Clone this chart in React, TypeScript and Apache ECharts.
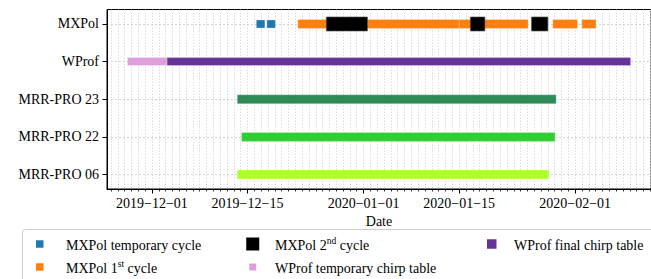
import React, { useEffect, useRef } from "react";
import * as echarts from "echarts";

// ---- data ----
const categories = ["MXPol", "WProf", "MRR-PRO 23", "MRR-PRO 22", "MRR-PRO 06"];

const tickDays = [0, 14, 31, 45, 62];
const tickLabels = ["2019−12−01", "2019−12−15", "2020−01−01", "2020−01−15", "2020−02−01"];

const mxpolTemporary = [
  ["2019-12-16T07:00", "2019-12-17T13:00"],
  ["2019-12-17T20:00", "2019-12-19T02:00"],
];
const mxpolFirst = [
  ["2019-12-22T09:00", "2020-01-15T00:00"],
  ["2020-01-15T00:00", "2020-01-25T02:30"],
  ["2020-01-28T17:00", "2020-02-01T08:00"],
  ["2020-02-01T23:00", "2020-02-04T01:00"],
];
const mxpolSecond = [
  ["2019-12-26T13:00", "2020-01-01T13:40"],
  ["2020-01-16T15:20", "2020-01-18T18:30"],
  ["2020-01-25T14:10", "2020-01-28T00:00"],
];
const wprofTemporary = [["2019-11-27T10:00", "2019-12-03T05:15"]];
const wprofFinal = [["2019-12-03T05:15", "2020-02-09T02:40"]];
const mrr23 = [["2019-12-13T12:00", "2020-01-29T05:00"]];
const mrr22 = [["2019-12-14T03:00", "2020-01-29T01:00"]];
const mrr06 = [["2019-12-13T12:00", "2020-01-28T03:30"]];

const ORIGIN = Date.parse("2019-12-01T00:00:00Z");
const toDay = (s: string) => (Date.parse(s + ":00Z") - ORIGIN) / 86400000;

const X_MIN = -6.58;
const X_MAX = 73.1;

const dailyTicks: number[] = [];
for (let d = Math.ceil(X_MIN); d <= Math.floor(X_MAX); d++) dailyTicks.push(d);

const FONT = "Liberation Serif";
const FS = 14;

type Spec = { name: string; row: number; color: string; h: number; segs: string[][]; z: number };
const specs: Spec[] = [
  { name: "MXPol temporary cycle", row: 0, color: "#1f77b4", h: 8, segs: mxpolTemporary, z: 2 },
  { name: "MXPol 1st cycle", row: 0, color: "#ff7f0e", h: 9, segs: mxpolFirst, z: 2 },
  { name: "MXPol 2nd cycle", row: 0, color: "#000000", h: 14, segs: mxpolSecond, z: 3 },
  { name: "WProf temporary chirp table", row: 1, color: "#dda0dd", h: 8, segs: wprofTemporary, z: 2 },
  { name: "WProf final chirp table", row: 1, color: "#663399", h: 8, segs: wprofFinal, z: 2 },
  { name: "MRR-PRO 23", row: 2, color: "#2e8b57", h: 9, segs: mrr23, z: 2 },
  { name: "MRR-PRO 22", row: 3, color: "#32cd32", h: 9, segs: mrr22, z: 2 },
  { name: "MRR-PRO 06", row: 4, color: "#adff2f", h: 9, segs: mrr06, z: 2 },
];

export default function App() {
  const ref = useRef<HTMLDivElement>(null);
  useEffect(() => {
    if (!ref.current) return;
    const chart = echarts.init(ref.current, undefined, { renderer: "svg" });

    const series = specs.map((s) => ({
      type: "custom",
      name: s.name,
      z: s.z,
      xAxisIndex: 0,
      yAxisIndex: 0,
      encode: { x: [0, 1], y: 2 },
      data: s.segs.map(([a, b]) => [toDay(a), toDay(b), s.row]),
      renderItem: (params: any, api: any) => {
        const p0 = api.coord([api.value(0), api.value(2)]);
        const p1 = api.coord([api.value(1), api.value(2)]);
        return {
          type: "rect",
          shape: { x: p0[0], y: p0[1] - s.h / 2, width: p1[0] - p0[0], height: s.h },
          style: {
            fill: s.color,
            stroke: s.color === "#000000" ? "rgba(90,90,90,0.8)" : "rgba(255,255,255,0.35)",
            lineWidth: 0.8,
          },
        };
      },
    }));

    const legendItems = [
      { x: 36, y: 244, size: 7.5, color: "#1f77b4", tx: 66, rich: "{n|MXPol temporary cycle}" },
      { x: 36, y: 267, size: 7.5, color: "#ff7f0e", tx: 66, rich: "{n|MXPol 1}{s|st}{n| cycle}" },
      { x: 249, y: 244, size: 13, color: "#000000", tx: 275, rich: "{n|MXPol 2}{s|nd}{n| cycle}" },
      { x: 249, y: 267, size: 7, color: "#dda0dd", tx: 275, rich: "{n|WProf temporary chirp table}" },
      { x: 488, y: 244, size: 9.5, color: "#663399", tx: 514, rich: "{n|WProf final chirp table}" },
    ];

    const graphic: any[] = [
      {
        type: "rect",
        shape: { x: 22.5, y: 229.5, width: 700, height: 60, r: 3 },
        style: { fill: "#fff", stroke: "#cccccc", lineWidth: 1 },
        z: 10,
      },
    ];
    legendItems.forEach((it) => {
      graphic.push({
        type: "rect",
        shape: { x: it.x + 3.75 - it.size / 2, y: it.y - it.size / 2, width: it.size, height: it.size },
        style: { fill: it.color },
        z: 11,
      });
      graphic.push({
        type: "text",
        x: it.tx,
        y: it.y,
        style: {
          text: it.rich,
          fontFamily: FONT,
          fontSize: FS,
          verticalAlign: "middle",
          rich: {
            n: { fontFamily: FONT, fontSize: FS, fill: "#000", verticalAlign: "bottom", lineHeight: 16 },
            s: { fontFamily: FONT, fontSize: 9.5, fill: "#000", verticalAlign: "top", lineHeight: 16 },
          },
        },
        z: 11,
      });
    });

    chart.setOption({
      animation: false,
      textStyle: { fontFamily: FONT },
      grid: {
        left: 107,
        right: 651 - 657,
        top: 9.5,
        bottom: 279 - 189,
        show: true,
        borderColor: "#000",
        borderWidth: 1,
        backgroundColor: "transparent",
        containLabel: false,
      },
      xAxis: [
        {
          type: "value",
          min: X_MIN,
          max: X_MAX,
          position: "bottom",
          name: "Date",
          nameLocation: "middle",
          nameGap: 24,
          nameTextStyle: { fontFamily: FONT, fontSize: FS, color: "#000" },
          axisLine: { show: true, onZero: false, lineStyle: { color: "#000", width: 1 } },
          axisTick: { show: true, customValues: tickDays, length: 4.5, lineStyle: { color: "#000", width: 1 } },
          axisLabel: {
            customValues: tickDays,
            margin: 7,
            fontFamily: FONT,
            fontSize: FS,
            color: "#000",
            formatter: (v: number) => {
              const i = tickDays.indexOf(Math.round(v));
              return i >= 0 ? tickLabels[i] : "";
            },
          },
          splitLine: { show: false },
        },
        {
          type: "value",
          min: X_MIN,
          max: X_MAX,
          position: "bottom",
          axisLine: { show: false, onZero: false },
          axisTick: { show: true, customValues: dailyTicks, length: 2.5, lineStyle: { color: "#000", width: 0.8 } },
          axisLabel: { show: false },
          splitLine: { show: true, lineStyle: { color: "#d4d4d4", type: [1.5, 1.5], width: 0.8 } },
        },
      ],
      yAxis: [
        {
          type: "value",
          inverse: true,
          min: -0.385,
          max: 4.385,
          axisLine: { show: true, onZero: false, lineStyle: { color: "#000", width: 1 } },
          axisTick: { show: true, customValues: [0, 1, 2, 3, 4], length: 4.5, lineStyle: { color: "#000", width: 1 } },
          axisLabel: {
            customValues: [0, 1, 2, 3, 4],
            margin: 8,
            fontFamily: FONT,
            fontSize: FS,
            color: "#000",
            formatter: (v: number) => categories[Math.round(v)] ?? "",
          },
          splitLine: { show: true, lineStyle: { color: "#c8c8c8", type: [2, 2], width: 0.8 } },
        },
      ],
      series,
      graphic,
    });
    return () => chart.dispose();
  }, []);
  return (
    <div
      ref={ref}
      style={{ position: "absolute", left: 0, top: 0, width: 651, height: 279, background: "#fff" }}
    />
  );
}
